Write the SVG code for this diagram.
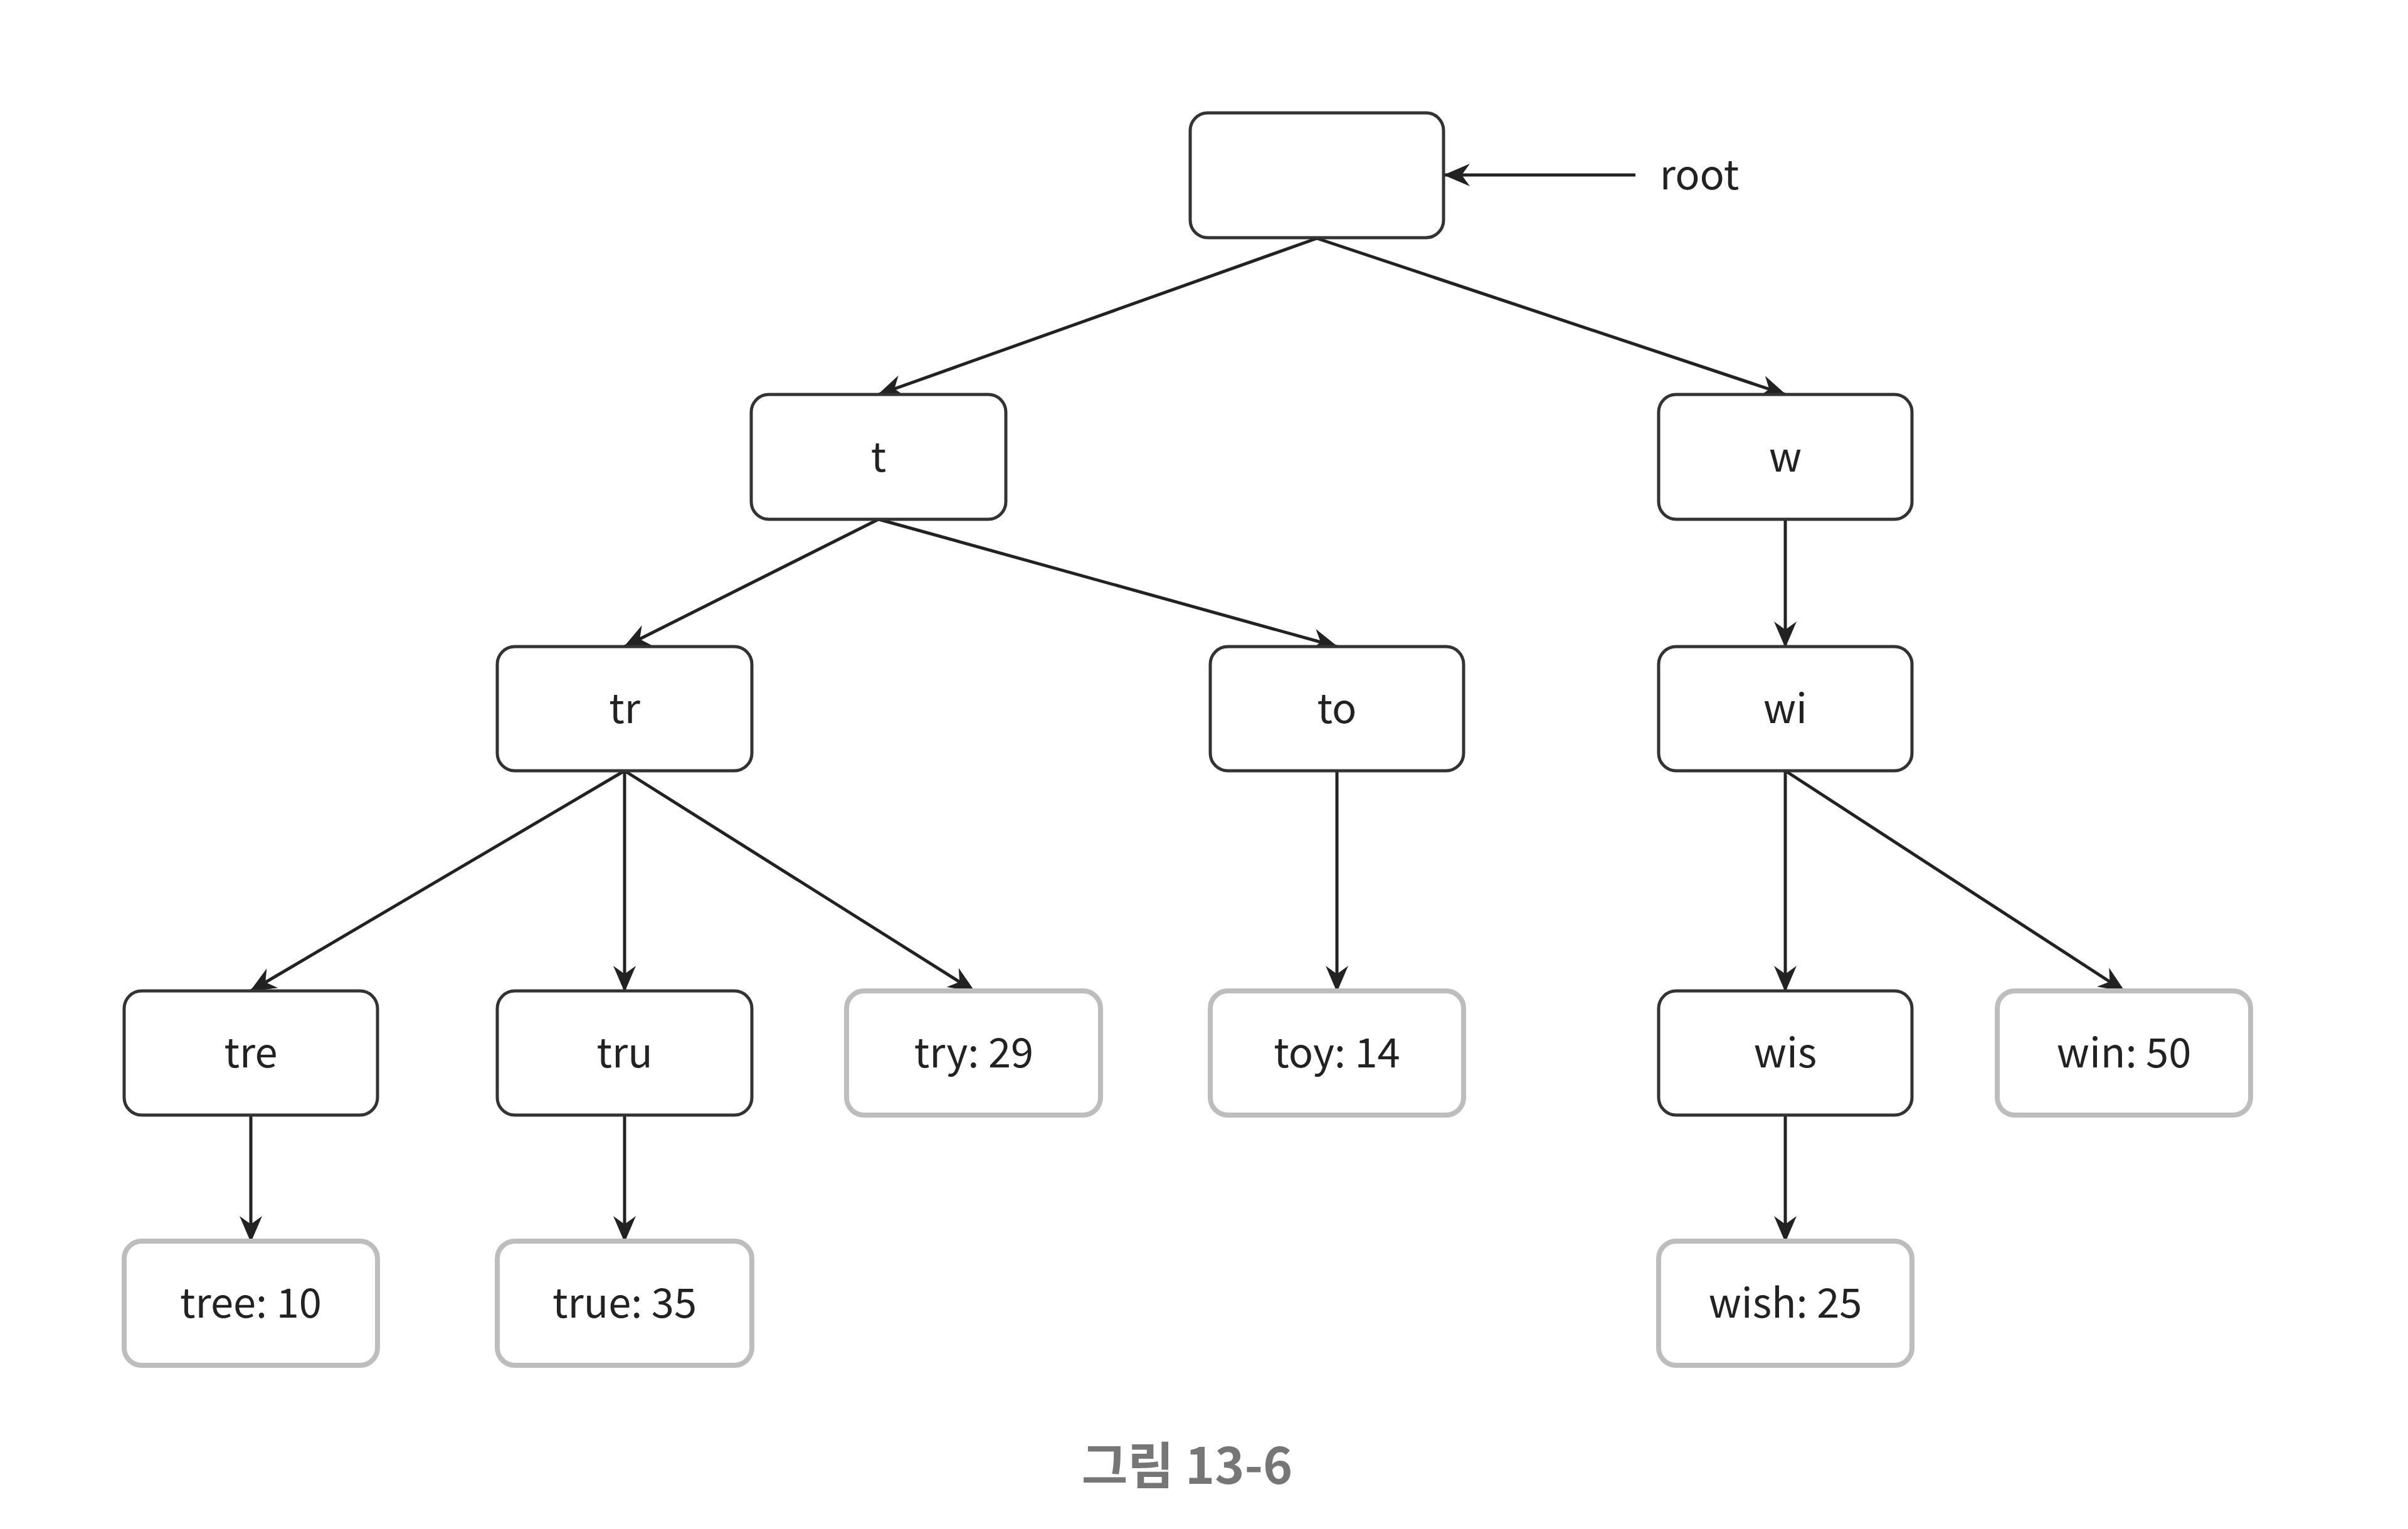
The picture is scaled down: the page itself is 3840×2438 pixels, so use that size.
<svg xmlns="http://www.w3.org/2000/svg" width="3840" height="2438" viewBox="0 0 3840 2438">
<style>
.n{fill:#fff;stroke:#333;stroke-width:5}
.l{fill:#fff;stroke:#bdbdbd;stroke-width:8}
.t{font-family:"Noto Sans CJK KR","Noto Sans",sans-serif;font-size:65px;fill:#222;text-anchor:middle}
.e{fill:none;stroke:#222;stroke-width:5}
.cap{font-family:"Noto Sans CJK KR","Noto Sans",sans-serif;font-size:80px;font-weight:bold;fill:#767676;text-anchor:middle}
</style>
<defs>
<marker id="a" viewBox="0 0 42 36" refX="40" refY="18" markerWidth="42" markerHeight="36" markerUnits="userSpaceOnUse" orient="auto">
<path d="M0,0 L42,18 L0,36 L13,18 Z" fill="#222"/>
</marker>
</defs>
<rect width="3840" height="2438" fill="#fff"/>
<g id="connectors">
<path class="e" d="M2608,279 L2304,279" marker-end="url(#a)"/>
<path class="e" d="M2100,380 L1401,629" marker-end="url(#a)"/>
<path class="e" d="M2100,380 L2847,629" marker-end="url(#a)"/>
<path class="e" d="M1401,828 L996,1031" marker-end="url(#a)"/>
<path class="e" d="M1401,828 L2132,1031" marker-end="url(#a)"/>
<path class="e" d="M2847,828 L2847,1031" marker-end="url(#a)"/>
<path class="e" d="M996,1229 L400,1580" marker-end="url(#a)"/>
<path class="e" d="M996,1229 L996,1580" marker-end="url(#a)"/>
<path class="e" d="M996,1229 L1553,1580" marker-end="url(#a)"/>
<path class="e" d="M2132,1229 L2132,1580" marker-end="url(#a)"/>
<path class="e" d="M2847,1229 L2847,1580" marker-end="url(#a)"/>
<path class="e" d="M2847,1229 L3387,1580" marker-end="url(#a)"/>
<path class="e" d="M400,1778 L400,1979" marker-end="url(#a)"/>
<path class="e" d="M996,1778 L996,1979" marker-end="url(#a)"/>
<path class="e" d="M2847,1778 L2847,1979" marker-end="url(#a)"/>
</g>
<g id="root"><rect class="n" x="1898" y="180" width="404" height="199" rx="28"/></g>
<g id="root-label"><text class="t" x="2710" y="302">root</text></g>
<g id="t"><rect class="n" x="1198" y="629" width="406" height="199" rx="28"/><text class="t" x="1401" y="752">t</text></g>
<g id="w"><rect class="n" x="2645" y="629" width="404" height="199" rx="28"/><text class="t" x="2847" y="752">w</text></g>
<g id="tr"><rect class="n" x="793" y="1031" width="406" height="198" rx="28"/><text class="t" x="996" y="1153">tr</text></g>
<g id="to"><rect class="n" x="1930" y="1031" width="404" height="198" rx="28"/><text class="t" x="2132" y="1153">to</text></g>
<g id="wi"><rect class="n" x="2645" y="1031" width="404" height="198" rx="28"/><text class="t" x="2847" y="1153">wi</text></g>
<g id="tre"><rect class="n" x="198" y="1580" width="404" height="198" rx="28"/><text class="t" x="400" y="1702">tre</text></g>
<g id="tru"><rect class="n" x="793" y="1580" width="406" height="198" rx="28"/><text class="t" x="996" y="1702">tru</text></g>
<g id="try"><rect class="l" x="1350" y="1580" width="405" height="198" rx="28"/><text class="t" x="1553" y="1702">try: 29</text></g>
<g id="toy"><rect class="l" x="1930" y="1580" width="404" height="198" rx="28"/><text class="t" x="2132" y="1702">toy: 14</text></g>
<g id="wis"><rect class="n" x="2645" y="1580" width="404" height="198" rx="28"/><text class="t" x="2847" y="1702">wis</text></g>
<g id="win"><rect class="l" x="3185" y="1580" width="404" height="198" rx="28"/><text class="t" x="3387" y="1702">win: 50</text></g>
<g id="tree"><rect class="l" x="198" y="1979" width="404" height="198" rx="28"/><text class="t" x="400" y="2101">tree: 10</text></g>
<g id="true"><rect class="l" x="793" y="1979" width="406" height="198" rx="28"/><text class="t" x="996" y="2101">true: 35</text></g>
<g id="wish"><rect class="l" x="2645" y="1979" width="404" height="198" rx="28"/><text class="t" x="2847" y="2101">wish: 25</text></g>
<g id="caption"><text class="cap" x="1893" y="2366">그림 13-6</text></g>
</svg>
